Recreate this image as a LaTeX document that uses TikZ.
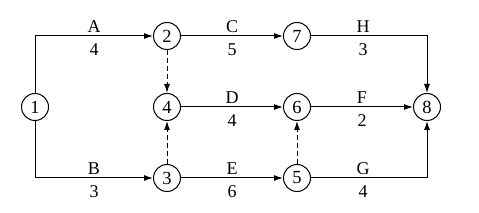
\documentclass[tikz,border=0pt]{standalone}
\usepackage{fontspec}
\setmainfont{Liberation Serif}
\usetikzlibrary{arrows.meta}
\begin{document}
\begin{tikzpicture}[x=1pt,y=-1pt,
  ev/.style={circle,draw,line width=1pt,minimum size=27pt,inner sep=0pt,font=\fontsize{18.5}{20}\selectfont},
  act/.style={line width=1pt,-{Latex[length=9pt,width=6pt]}},
  dum/.style={act,dash pattern=on 5pt off 3pt},
  lbl/.style={font=\fontsize{18}{20}\selectfont,inner sep=0pt},
  up/.style={lbl,above=3pt},
  dn/.style={lbl,below=7pt}]
\useasboundingbox (0,0) rectangle (479,213);
\node[ev] (n1) at (35,107) {1};
\node[ev] (n2) at (167,36) {2};
\node[ev] (n4) at (167,107) {4};
\node[ev] (n3) at (167,178) {3};
\node[ev] (n7) at (297,36) {7};
\node[ev] (n6) at (297,107) {6};
\node[ev] (n5) at (297,178) {5};
\node[ev] (n8) at (427,107) {8};
\coordinate (c1) at (35,36);
\coordinate (c2) at (35,178);
\coordinate (c3) at (427,36);
\coordinate (c4) at (427,178);
\draw[act] (n1) -- (c1) -- node[up]{A} node[dn]{4} (n2);
\draw[act] (n1) -- (c2) -- node[up]{B} node[dn]{3} (n3);
\draw[act] (n2) -- node[up]{C} node[dn]{5} (n7);
\draw[act] (n4) -- node[up]{D} node[dn]{4} (n6);
\draw[act] (n3) -- node[up]{E} node[dn]{6} (n5);
\draw[act] (n6) -- node[up]{F} node[dn]{2} (n8);
\draw[act] (n7) -- node[up,pos=0.45]{H} node[dn,pos=0.45]{3} (c3) -- (n8);
\draw[act] (n5) -- node[up,pos=0.45]{G} node[dn,pos=0.45]{4} (c4) -- (n8);
\draw[dum] (n2) -- (n4);
\draw[dum] (n3) -- (n4);
\draw[dum] (n5) -- (n6);
\end{tikzpicture}
\end{document}
